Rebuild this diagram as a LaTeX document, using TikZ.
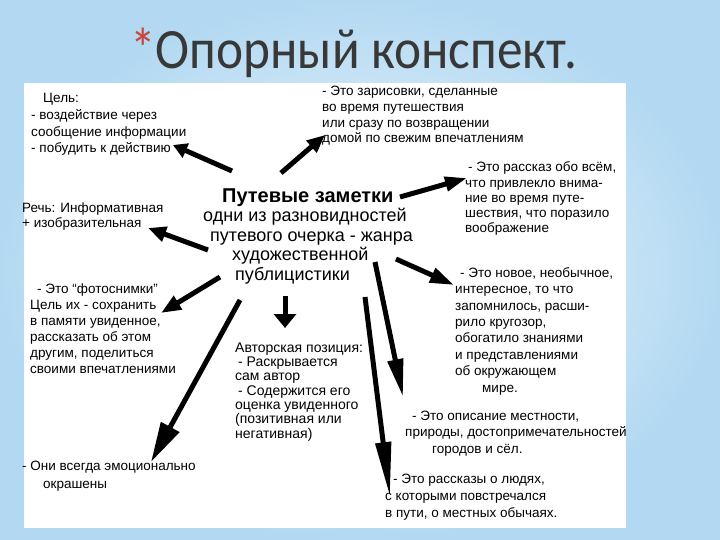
\documentclass[tikz,border=0pt]{standalone}
\usepackage{fontspec}
\setmainfont{Liberation Sans}
\newfontfamily\titlefont[FakeStretch=0.9]{Carlito}
\usetikzlibrary{arrows.meta}
\definecolor{bginner}{HTML}{F4F9FD}
\definecolor{bgouter}{HTML}{B3D9F2}
\definecolor{titlegray}{HTML}{383838}
\definecolor{astred}{HTML}{C9473A}
\tikzset{
  txt/.style={anchor=base west, inner sep=0pt, align=left, text=black,
    font=\fontsize{13.5}{16.7}\selectfont},
  arr/.style={line width=5pt, draw=black},
}
\begin{document}
\begin{tikzpicture}[x=1pt,y=-1pt]
\useasboundingbox (0,0) rectangle (720,540);
\shade[inner color=bginner, outer color=bgouter] (0,0) rectangle (720,540);
\fill[white] (24,83) rectangle (626,528);

% title
\node[anchor=base west, inner sep=0pt, text=titlegray,
  font=\titlefont\fontsize{57}{60}\selectfont] (title) at (130,69)
  {{\color{astred}*}Опорный конспект.};

% centre (anchor = baseline of last line)
\node[txt, font=\fontsize{18}{19.5}\selectfont] (centre) at (203,280)
  {\hspace*{19pt}{\fontsize{20}{19.5}\selectfont\bfseries Путевые заметки}\\
   одни из разновидностей\\
   \hspace*{7pt}путевого очерка - жанра\\
   \hspace*{29pt}художественной\\
   \hspace*{32pt}публицистики};

% blocks (anchor = baseline of last line)
\node[txt] (goal) at (31,153)
  {\hspace*{12pt}Цель:\\- воздействие через\\сообщение информации\\- побудить к действию};
\node[txt, font=\fontsize{13.5}{15.7}\selectfont] (sketch) at (322,143)
  {- Это зарисовки, сделанные\\во время путешествия\\или сразу по возвращении\\домой по свежим впечатлениям};
\node[txt, font=\fontsize{13.5}{15.3}\selectfont] (story) at (465,233)
  {\hspace*{3pt}- Это рассказ обо всём,\\что привлекло внима-\\ние во время путе-\\шествия, что поразило\\воображение};
\node[txt, font=\fontsize{13.5}{16}\selectfont] (speech) at (22,228)
  {Речь: Информативная\\+ изобразительная};
\node[txt, font=\fontsize{13.5}{16}\selectfont] (photo) at (30,373)
  {\hspace*{7pt}- Это “фотоснимки”\\Цель их - сохранить\\в памяти увиденное,\\рассказать об этом\\другим, поделиться\\своими впечатлениями};
\node[txt, font=\fontsize{14}{14.3}\selectfont] (author) at (235,438)
  {Авторская позиция:\\\hspace*{3pt}- Раскрывается\\сам автор\\\hspace*{3pt}- Содержится его\\оценка увиденного\\(позитивная или\\негативная)};
\node[txt, font=\fontsize{13.5}{18}\selectfont] (emo) at (22,488)
  {- Они всегда эмоционально\\\hspace*{21pt}окрашены};
\node[txt, font=\fontsize{13.5}{16.4}\selectfont] (new) at (455,392)
  {\hspace*{5pt}- Это новое, необычное,\\интересное, то что\\запомнилось, расши-\\рило кругозор,\\обогатило знаниями\\и представлениями\\об окружающем\\\hspace*{27pt}мире.};
\node[txt, font=\fontsize{13.5}{16.5}\selectfont] (desc) at (405,453)
  {\hspace*{7pt}- Это описание местности,\\природы, достопримечательностей\\\hspace*{27pt}городов и сёл.};
\node[txt, font=\fontsize{13.5}{17}\selectfont] (people) at (385,517)
  {\hspace*{8pt}- Это рассказы о людях,\\с которыми повстречался\\в пути, о местных обычаях.};

% arrow end points
\coordinate (t1) at (232,171);  \coordinate (h1) at (173,145);
\coordinate (t2) at (281,173);  \coordinate (h2) at (325,135);
\coordinate (t3) at (400,197);  \coordinate (h3) at (467,178);
\coordinate (t4) at (208,250);  \coordinate (h4) at (148,228);
\coordinate (t5) at (220,277);  \coordinate (h5) at (161,313);
\coordinate (t6) at (285,296);  \coordinate (h6) at (285,328);
\coordinate (t7) at (240,300);  \coordinate (h7) at (151,462);
\coordinate (t8) at (375,262);  \coordinate (h8) at (403,397);
\coordinate (t9) at (365,297);  \coordinate (h9) at (390,497);
\coordinate (t10) at (396,259); \coordinate (h10) at (454,285);

\draw[arr, -{Triangle[length=14pt,width=15pt]}] (t1) -- (h1);
\draw[arr, -{Triangle[length=18pt,width=15pt]}] (t2) -- (h2);
\draw[arr, -{Triangle[length=22pt,width=14pt]}] (t3) -- (h3);
\draw[arr, -{Triangle[length=18pt,width=15pt]}] (t4) -- (h4);
\draw[arr, -{Triangle[length=20pt,width=15pt]}] (t5) -- (h5);
\draw[arr, -{Triangle[length=14pt,width=22pt]}] (t6) -- (h6);
\draw[arr, -{Triangle[length=40pt,width=20pt]}] (t7) -- (h7);
\draw[arr, -{Triangle[length=38pt,width=15pt]}] (t8) -- (h8);
\draw[arr, -{Triangle[length=55pt,width=15pt]}] (t9) -- (h9);
\draw[arr, -{Triangle[length=24pt,width=15pt]}] (t10) -- (h10);
\end{tikzpicture}
\end{document}
